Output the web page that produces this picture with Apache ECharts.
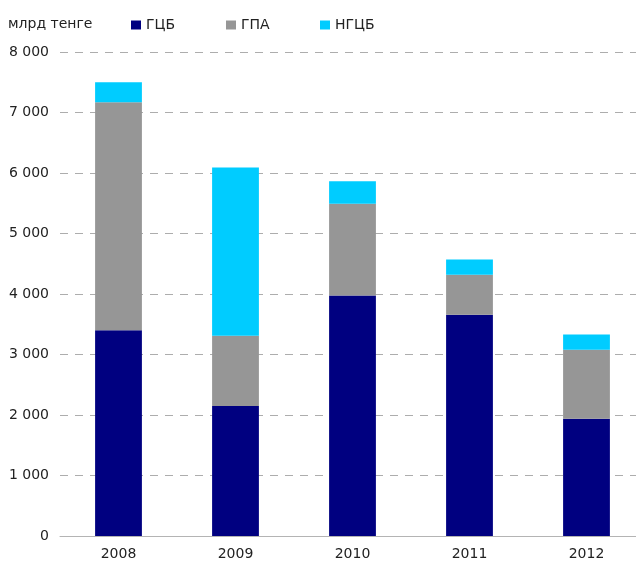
<!DOCTYPE html>
<html>
<head>
<meta charset="utf-8">
<script src="https://cdn.jsdelivr.net/npm/echarts@6/dist/echarts.min.js"></script>
<style>
  html, body { margin: 0; padding: 0; background: #fff; }
  #chart { width: 636px; height: 561px; }
</style>
</head>
<body>
<div id="chart"></div>
<script>
  var years = ['2008', '2009', '2010', '2011', '2012']
  var gcb = [3400, 2150, 3975, 3655, 1940]
  var gpa = [3770, 1160, 1515, 665, 1140]
  var ngcb = [330, 2780, 375, 250, 250]
  var seriesNames = ['ГЦБ', 'ГПА', 'НГЦБ']
  var seriesColors = ['#000080', '#969696', '#00ccff']
  var legendLeft = [131, 226, 320]

  var font = 'DejaVu Sans, Verdana, sans-serif'

  function spaced (v) {
    return String(v).replace(/\B(?=(\d{3})+(?!\d))/g, ' ')
  }

  var chart = echarts.init(document.getElementById('chart'))

  var legends = []
  for (var i = 0; i < seriesNames.length; i++) {
    legends.push({
      data: [seriesNames[i]],
      left: legendLeft[i],
      top: 18,
      padding: 0,
      icon: 'rect',
      itemWidth: 10,
      itemHeight: 9,
      itemGap: 5,
      selectedMode: false,
      textStyle: { fontFamily: font, fontSize: 14, color: '#222' }
    })
  }

  var dataSets = [gcb, gpa, ngcb]
  var series = []
  for (i = 0; i < seriesNames.length; i++) {
    series.push({
      name: seriesNames[i],
      type: 'bar',
      stack: 'total',
      barWidth: '40%',
      itemStyle: { color: seriesColors[i] },
      data: dataSets[i]
    })
  }

  chart.setOption({
    animation: false,
    title: {
      text: 'млрд тенге',
      left: 8,
      top: 17,
      padding: 0,
      textStyle: { fontFamily: font, fontSize: 14, fontWeight: 'normal', color: '#222' }
    },
    legend: legends,
    grid: { left: 60, top: 52, width: 585, bottom: 25, outerBoundsMode: 'none' },
    xAxis: {
      type: 'category',
      data: years,
      axisLine: { lineStyle: { color: '#b4b4b4' } },
      axisTick: { length: 5, lineStyle: { color: '#b4b4b4' } },
      axisLabel: { fontFamily: font, fontSize: 14, color: '#222', margin: 11 }
    },
    yAxis: {
      type: 'value',
      min: 0,
      max: 8000,
      interval: 1000,
      axisLine: { show: false },
      axisTick: { show: false },
      axisLabel: { fontFamily: font, fontSize: 14, color: '#222', margin: 11, formatter: spaced },
      splitLine: { lineStyle: { color: '#adadad', type: [8, 7], width: 1 } }
    },
    series: series
  })
</script>
</body>
</html>
